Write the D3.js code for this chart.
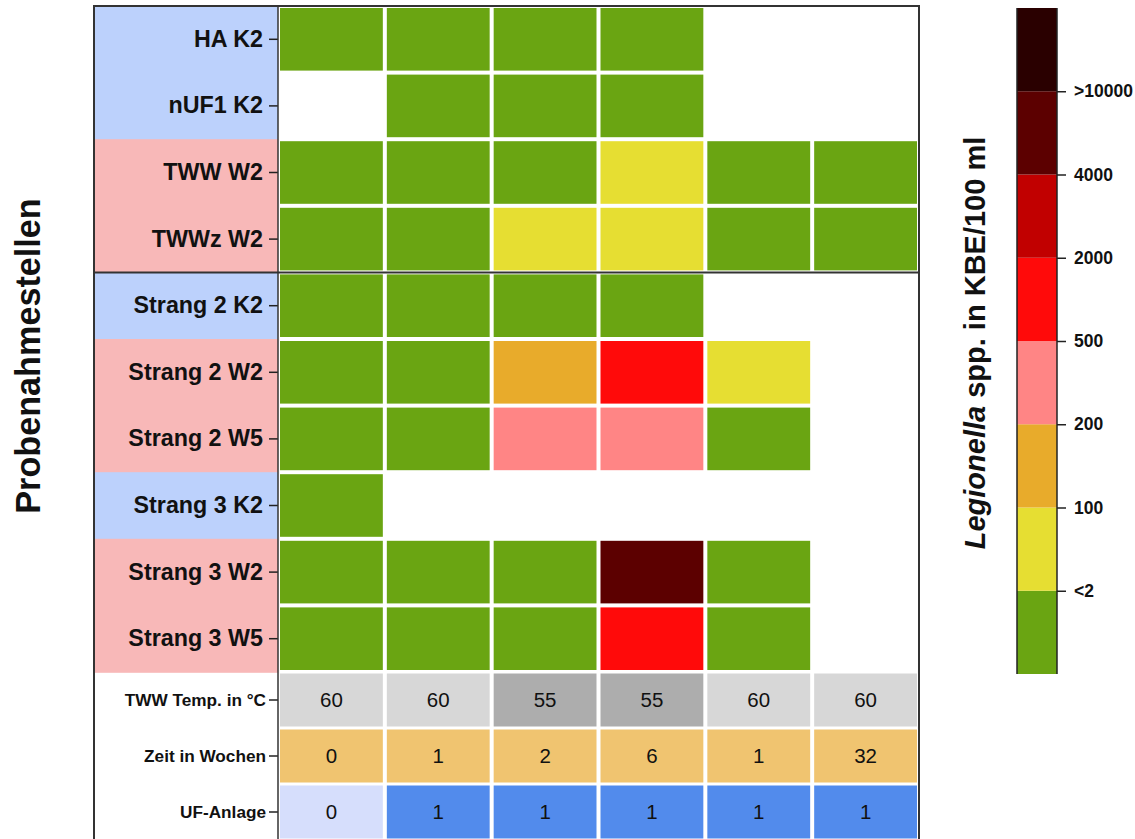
<!DOCTYPE html>
<html>
<head>
<meta charset="utf-8">
<script src="https://cdn.jsdelivr.net/npm/d3@7"></script>
<style>
  html, body { margin: 0; padding: 0; background: #fff; }
  svg { display: block; font-family: "Liberation Sans", Arial, sans-serif; }
</style>
</head>
<body>
<svg id="chart" width="1135" height="839"></svg>
<script>
// ---------- DATA ----------
const sampleRows = ["HA K2", "nUF1 K2", "TWW W2", "TWWz W2", "Strang 2 K2", "Strang 2 W2",
                    "Strang 2 W5", "Strang 3 K2", "Strang 3 W2", "Strang 3 W5"];
const rowGroup = ["K", "K", "W", "W", "K", "W", "W", "K", "W", "W"];
const columns = [1, 2, 3, 4, 5, 6];
// Legionella class per cell (0 = <2, 1 = 2-100, 2 = 100-200, 3 = 200-500, 4 = 500-2000,
// 5 = 2000-4000, 6 = 4000-10000, 7 = >10000), null = no sample
const cellClasses = [
  [0, 0, 0, 0, null, null],
  [null, 0, 0, 0, null, null],
  [0, 0, 0, 1, 0, 0],
  [0, 0, 1, 1, 0, 0],
  [0, 0, 0, 0, null, null],
  [0, 0, 2, 4, 1, null],
  [0, 0, 3, 3, 0, null],
  [0, null, null, null, null, null],
  [0, 0, 0, 6, 0, null],
  [0, 0, 0, 4, 0, null]
];
const infoRows = ["TWW Temp. in °C", "Zeit in Wochen", "UF-Anlage"];
const tempValues = [60, 60, 55, 55, 60, 60];
const weekValues = [0, 1, 2, 6, 1, 32];
const ufValues = [0, 1, 1, 1, 1, 1];
const classColors = ["#6aa512", "#e6de32", "#e8ab2b", "#ff8585", "#ff0a0a", "#c10000", "#5c0000", "#2a0000"];
const classTickLabels = ["<2", "100", "200", "500", "2000", "4000", ">10000"];
const groupColors = { K: "#bcd1fc", W: "#f8b8b8" };

// ---------- LAYOUT ----------
const svg = d3.select("#chart");
const frameL = 94, frameR = 919, plotTop = 6;
const axisX = 278;
const sampleH = 66.6, infoH = 56;
const sampleBottom = plotTop + sampleH * sampleRows.length;

const x = d3.scaleBand().domain(columns).range([axisX, frameR]);
const ySample = d3.scaleBand().domain(sampleRows).range([plotTop, sampleBottom]);
const yInfo = d3.scaleBand().domain(infoRows).range([sampleBottom, sampleBottom + infoH * infoRows.length]);

// label backgrounds
svg.append("g").selectAll("rect").data(sampleRows).join("rect")
  .attr("x", frameL).attr("y", d => ySample(d))
  .attr("width", axisX - frameL).attr("height", ySample.bandwidth() + 0.8)
  .attr("fill", (d, i) => groupColors[rowGroup[i]]);

// heat cells
const cells = [];
cellClasses.forEach((row, ri) => row.forEach((c, ci) => {
  if (c !== null) cells.push({ row: sampleRows[ri], col: columns[ci], c });
}));
svg.append("g").selectAll("rect").data(cells).join("rect")
  .attr("x", d => x(d.col) + 2).attr("y", d => ySample(d.row) + 2)
  .attr("width", x.bandwidth() - 4).attr("height", ySample.bandwidth() - 4)
  .attr("fill", d => classColors[d.c]);

// info rows
const infoData = [];
columns.forEach((col, i) => {
  infoData.push({ row: infoRows[0], col, v: tempValues[i], fill: tempValues[i] === 55 ? "#adadad" : "#d7d7d7" });
  infoData.push({ row: infoRows[1], col, v: weekValues[i], fill: "#f0c470" });
  infoData.push({ row: infoRows[2], col, v: ufValues[i], fill: ufValues[i] === 0 ? "#d6defc" : "#528bec" });
});
const ig = svg.append("g");
ig.selectAll("rect").data(infoData).join("rect")
  .attr("x", d => x(d.col) + 2).attr("y", d => yInfo(d.row) + 1.5)
  .attr("width", x.bandwidth() - 4).attr("height", yInfo.bandwidth() - 3)
  .attr("fill", d => d.fill);
ig.selectAll("text").data(infoData).join("text")
  .attr("x", d => x(d.col) + x.bandwidth() / 2)
  .attr("y", d => yInfo(d.row) + yInfo.bandwidth() / 2)
  .attr("dy", "0.36em").attr("text-anchor", "middle")
  .attr("font-size", 20.5).attr("fill", "#111")
  .text(d => d.v);

// axes (row labels)
const axS = svg.append("g").attr("transform", `translate(${axisX},0)`)
  .call(d3.axisLeft(ySample).tickSize(9).tickPadding(6));
axS.selectAll("text").attr("font-size", 23.3).attr("font-weight", "bold").attr("fill", "#111")
  .attr("font-family", "Liberation Sans, Arial, sans-serif");
const axI = svg.append("g").attr("transform", `translate(${axisX},0)`)
  .call(d3.axisLeft(yInfo).tickSize(9).tickPadding(3));
axI.selectAll("text").attr("font-size", 17.2).attr("font-weight", "bold").attr("fill", "#111")
  .attr("font-family", "Liberation Sans, Arial, sans-serif");
svg.selectAll(".domain").remove();
svg.selectAll(".tick line").attr("stroke", "#222").attr("stroke-width", 1.5);

// vertical axis line & frame
svg.append("line").attr("x1", axisX).attr("x2", axisX).attr("y1", plotTop).attr("y2", 845)
  .attr("stroke", "#333").attr("stroke-width", 1.5);
svg.append("line").attr("x1", frameL).attr("x2", frameR).attr("y1", ySample("Strang 2 K2")).attr("y2", ySample("Strang 2 K2"))
  .attr("stroke", "#333").attr("stroke-width", 2);
svg.append("rect").attr("x", frameL).attr("y", plotTop).attr("width", frameR - frameL).attr("height", 845 - plotTop)
  .attr("fill", "none").attr("stroke", "#333").attr("stroke-width", 2);

// left title
svg.append("text").attr("transform", `translate(40,356) rotate(-90)`)
  .attr("text-anchor", "middle").attr("font-size", 34.2).attr("font-weight", "bold").attr("fill", "#111")
  .text("Probenahmestellen");

// ---------- COLOR BAR ----------
const cbX = 1017, cbW = 40, cbTop = 8, cbBottom = 674;
const yc = d3.scaleLinear().domain([0, classColors.length]).range([cbBottom, cbTop]);
const cb = svg.append("g");
cb.selectAll("rect").data(classColors).join("rect")
  .attr("x", cbX).attr("y", (d, i) => yc(i + 1)).attr("width", cbW)
  .attr("height", (d, i) => yc(i) - yc(i + 1)).attr("fill", d => d);
cb.append("line").attr("x1", cbX).attr("x2", cbX).attr("y1", cbTop).attr("y2", cbBottom).attr("stroke", "#222").attr("stroke-width", 1.5);
cb.append("line").attr("x1", cbX + cbW).attr("x2", cbX + cbW).attr("y1", cbTop).attr("y2", cbBottom).attr("stroke", "#222").attr("stroke-width", 1.5);
const cbAxis = d3.axisRight(yc).tickValues(d3.range(1, classColors.length))
  .tickFormat((d, i) => classTickLabels[i]).tickSize(9).tickPadding(8);
const cba = svg.append("g").attr("transform", `translate(${cbX + cbW},0)`).call(cbAxis);
cba.select(".domain").remove();
cba.selectAll(".tick line").attr("stroke", "#222").attr("stroke-width", 1.5);
cba.selectAll("text").attr("font-size", 17.5).attr("font-weight", "bold").attr("fill", "#111")
  .attr("font-family", "Liberation Sans, Arial, sans-serif");

const ct = svg.append("text").attr("transform", `translate(985,343) rotate(-90)`)
  .attr("text-anchor", "middle").attr("font-size", 29).attr("font-weight", "bold").attr("fill", "#111");
ct.append("tspan").attr("font-style", "italic").text("Legionella");
ct.append("tspan").text(" spp. in KBE/100 ml");
</script>
</body>
</html>
